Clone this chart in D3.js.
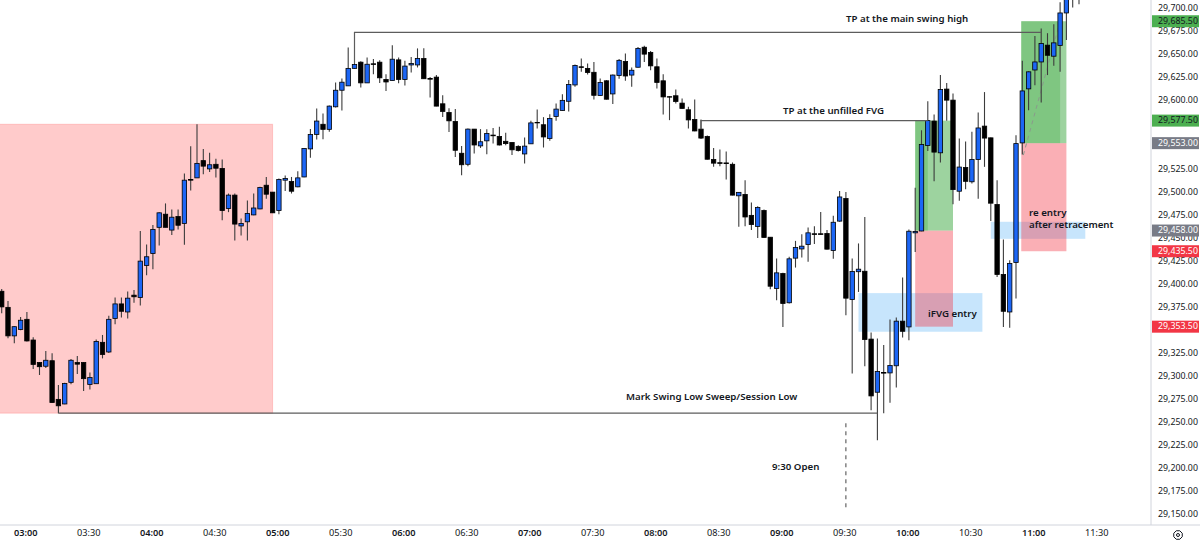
<!DOCTYPE html>
<html>
<head>
<meta charset="utf-8">
<script src="https://cdn.jsdelivr.net/npm/d3@7"></script>
<style>
  html, body { margin: 0; padding: 0; background: #fff; overflow: hidden; }
  svg { display: block; }
  text { font-family: "Noto Sans", "Open Sans", sans-serif; }
</style>
</head>
<body>
<div id="chart"></div>
<script>
// Three-minute index futures candles, first one at 02:48 (minutes since midnight).
const firstCandleMinute = 168;
const candleMinutes = 3;

const opens = [
  29392,29374.5,29343.5,29350.5,29361.5,29339,29314.5,29310.5,29316.5,29274.5,
  29269.5,29293,29314.5,29314.5,29290.75,29291.5,29336.5,29326,29362.5,29378.25,
  29369.5,29387.75,29385.25,29420,29433,29461.5,29475.75,29458.5,29473.25,29465.75,
  29513.5,29515.25,29534,29525,29530,29525.5,29482,29496.5,29463,29467.5,
  29475,29481.5,29507.25,29499.75,29479.75,29512.75,29511.25,29505.5,29516.25,29546.75,
  29562.5,29573.5,29568,29592.5,29610.5,29615.25,29634.25,29641,29618.5,29639.25,
  29641,29622.25,29621,29643.5,29622.25,29638,29638,29645,29623.25,29624.75,
  29595.75,29586.25,29576.5,29542,29530,29568.25,29550,29555.5,29561.75,29560.25,
  29555,29553.75,29549.5,29541.25,29552.25,29575.5,29573,29558,29582,29588.5,
  29598.5,29616.25,29636,29634.25,29630,29604.75,29620.75,29606.5,29626.5,29641.75,
  29627,29635.5,29657.25,29651.5,29636,29620.75,29603.5,29604.5,29596.5,29589.25,
  29578.75,29568.25,29560.25,29535.25,29531.75,29531.5,29530,29495.75,29497.25,29474.5,
  29462.5,29479.75,29450.75,29395,29411.25,29379.5,29428,29438,29442.75,29454.5,
  29454.5,29454.75,29436.25,29468.25,29492.75,29383,29413.25,29413.75,29340,29282.25,
  29303.75,29303.25,29311,29359.5,29353.25,29455.5,29457.5,29550.5,29577,29542.5,
  29611.75,29599.75,29500.75,29526.5,29511,29535.25,29571.5,29558.75,29486.25,29410.25,
  29369.5,29423.25,29553.25,29612,29632.5,29641.25,29659.5,29647.5,29659.25,29694.5,
  29714,29722
];
const highs = [
  29394.5,29381.5,29354,29364,29369.5,29342,29315,29327,29324.5,29290,
  29292.5,29318.5,29321.5,29315,29303.75,29339.5,29344.5,29365.5,29385.25,29385.25,
  29391.75,29393.25,29457.5,29442.75,29464,29478,29487.5,29481,29481,29520,
  29549.5,29573.5,29546.5,29542.5,29536,29535.25,29498.25,29498.25,29471,29490.75,
  29498.25,29505.5,29516.25,29500,29514.5,29517.75,29516.25,29522.5,29547.5,29568.25,
  29590.75,29585.25,29594,29619,29623.25,29657,29640,29642,29646,29644.5,
  29643,29628,29659.5,29646,29642.5,29646.75,29656,29656.25,29625,29627,
  29605,29591,29590,29550,29569,29568.5,29568.25,29568,29569.5,29570.75,
  29564.25,29554,29550.75,29559,29577.25,29589.5,29581.25,29584.5,29596,29606.25,
  29621.5,29638.5,29645,29639.5,29641.25,29623.25,29621.5,29627.5,29644.5,29650.5,
  29635.25,29657.5,29658.75,29653.25,29645,29628,29604,29611.25,29601.5,29592.5,
  29600.5,29578.75,29561.25,29547.75,29546,29544,29532,29499.75,29512.75,29488.5,
  29484.5,29481,29451,29427.5,29412,29429.5,29446.75,29454,29461.25,29462.75,
  29478.25,29458.5,29474,29501,29500,29427.5,29444,29472.75,29347.25,29340.75,
  29333.5,29361.25,29363.5,29407,29459,29504.5,29567,29598.5,29584.25,29627,
  29618.5,29607,29558,29554.75,29565.25,29586.25,29608.5,29559,29512.75,29448.25,
  29425.75,29561.5,29642.5,29631.25,29669.5,29677.5,29672.5,29682.25,29706.25,29719,
  29725,29726
];
const lows = [
  29368,29341,29335.5,29349.5,29337.5,29307.5,29301,29308.5,29270.5,29259.5,
  29269.25,29291,29302,29283.5,29285.25,29291.5,29319,29325,29356.25,29363.5,
  29362.5,29379.5,29376.5,29409.5,29416,29441.75,29461.5,29453.25,29459.25,29442.5,
  29501.5,29515,29519.25,29521.75,29515.75,29469.25,29478,29447.25,29452.5,29447.25,
  29474.75,29481.25,29492.5,29477,29475.75,29501,29498.25,29505,29516,29537,
  29557,29557.25,29565.25,29591.75,29588.5,29615,29634,29613.5,29618.25,29628,
  29618.5,29609.75,29620.75,29618,29615.75,29629.75,29635.25,29622.75,29602.5,29593,
  29581.5,29565,29538,29518,29528,29541.75,29547.75,29541,29552.5,29550.5,
  29550.75,29540,29544,29531,29552,29569,29548.25,29555.5,29577.25,29588.25,
  29587.5,29614.25,29630.5,29627.5,29600.5,29604.5,29600.5,29595.5,29623,29620.75,
  29614.25,29635.25,29641.25,29632.25,29612.5,29584,29578,29596,29590.25,29569,
  29566,29557.5,29535.25,29527.25,29528,29513.5,29496.25,29462,29462.75,29458.5,
  29450,29450.25,29394.25,29382.25,29353.25,29378.75,29417.75,29428.75,29424,29443.25,
  29453.5,29437.5,29427.25,29467.5,29366,29302.5,29391.25,29310.5,29262.75,29230,
  29259.5,29270.75,29287.5,29341.75,29338.75,29434.75,29457.25,29544.5,29511.5,29532,
  29577.25,29486.5,29490.25,29503,29509.25,29492.5,29527.25,29468.5,29407.5,29353.25,
  29352.25,29384.25,29540.75,29588.75,29616,29597.25,29627,29637,29630.5,29665,
  29700.5,29704
];
const closes = [
  29375,29343.5,29353.5,29360.5,29338,29312.5,29310,29317,29271,29267.5,
  29291.75,29317,29312.75,29297,29298.25,29337.5,29323.25,29361.5,29378.25,29370.25,
  29384.5,29386,29424.75,29429.5,29459.25,29477.25,29461.5,29472.5,29463.75,29512.75,
  29512.75,29531,29528,29529.5,29525.75,29479.75,29496.5,29465,29465.75,29476.5,
  29482.5,29504.75,29497.5,29477.25,29513.5,29514.5,29500.75,29515.25,29547.25,29562.5,
  29577,29568,29593.25,29610.5,29619.25,29634.25,29638.5,29618.5,29638.75,29638.5,
  29624,29619.5,29644.25,29622.25,29636.75,29639.5,29645,29623,29622.5,29593.25,
  29587.5,29577.25,29545.25,29529.5,29568.25,29551,29554.5,29563.5,29561,29551,
  29552.5,29545.75,29545,29549.75,29575,29575,29559.75,29579.75,29590,29599.5,
  29616.75,29637.5,29635.25,29629.75,29605,29619,29600.75,29627,29643,29626,
  29632.25,29656,29649.75,29637,29619,29603.25,29603,29598.25,29590.75,29578.25,
  29566.25,29558.5,29535.5,29531.25,29531,29530.75,29496.5,29499.5,29472.75,29464.5,
  29483,29450.5,29397.5,29412,29378.75,29427.25,29439.5,29441,29455.5,29453.75,
  29453.75,29437.75,29467,29494.5,29384.5,29413.5,29416,29339.5,29278.25,29304.75,
  29303,29311.25,29359.5,29348.5,29457.25,29457,29551.5,29577.5,29543.25,29611.25,
  29599.75,29502.5,29527,29511.5,29535.25,29569.5,29558.5,29487.75,29410.25,29370.25,
  29422.25,29552.5,29609.75,29630.5,29641.25,29661.25,29648.5,29662,29694.5,29715,
  29722,29717.5
];

// 29,575, 29,550 and 29,350 sit fully behind their price tags, so they are left out.
const priceTicks = d3.range(29150, 29701, 25).filter(p => ![29575, 29550, 29350].includes(p));
const timeTickMinutes = [180,210,240,270,300,330,360,390,420,450,480,510,540,570,600,630,660,690];

// Price tags pinned to the right-hand scale.
const tagPrices = [29685.5, 29577.5, 29553, 29458, 29435.5, 29353.5];
const tagKinds  = ["profit", "profit", "entry", "entry", "stop", "stop"];

// Session box, levels and trade zones (minutes and prices).
const sessionBox = { from: 150, to: 297, top: 29573.5, bottom: 29259.5 };
const lowLevel   = { from: 195, to: 585, price: 29259.5 };
const highLevel  = { from: 336, to: 663, price: 29673.3, anchor: 29640 };
const fvgLevel   = { from: 501, to: 609, price: 29577.5, anchor: 29568 };
const openMarker = { minute: 570, top: 29248.5, bottom: 29156 };

const zones = [
  { kind: "fvg",    from: 576,   to: 635,   top: 29390,   bottom: 29348 },
  { kind: "fvg",    from: 639,   to: 684,   top: 29467.5, bottom: 29449 },
  { kind: "loss",   from: 603,   to: 621,   top: 29458,   bottom: 29353.5 },
  { kind: "loss",   from: 653.5, to: 675,   top: 29553,   bottom: 29435.5 },
  { kind: "gain",   from: 603,   to: 621,   top: 29577.5, bottom: 29458 },
  { kind: "gainB",  from: 603,   to: 609,   top: 29577.5, bottom: 29458 },
  { kind: "gain",   from: 653.5, to: 675,   top: 29685.5, bottom: 29553 },
  { kind: "gainB",  from: 653.5, to: 672,   top: 29685.5, bottom: 29553 }
];
const zoneFill = {
  fvg:   "rgba(33,150,243,0.25)",
  loss:  "rgba(242,54,69,0.4)",
  gain:  "rgba(76,175,80,0.55)",
  gainB: "rgba(76,175,80,0.37)"
};
const tagFill = { profit: "#4caf50", entry: "#787b86", stop: "#f23645" };
const tagText = { profit: "#131722", entry: "#ffffff", stop: "#ffffff" };

const width = 1200, height = 541;
const plotRight = 1151, plotBottom = 525;
const bodyHalf = 2.2;

const svg = d3.select("#chart").append("svg")
  .attr("width", width).attr("height", height);

const x = d3.scaleLinear().domain([168, 690]).range([1.7, 1097.9]);
const y = d3.scaleLinear().domain([29150, 29700]).range([513.9, 7.9]);

svg.append("defs").append("clipPath").attr("id", "plot")
  .append("rect").attr("width", plotRight).attr("height", plotBottom);

const plot = svg.append("g").attr("clip-path", "url(#plot)");

// Session highlight
plot.append("rect")
  .attr("x", x(sessionBox.from)).attr("y", y(sessionBox.top))
  .attr("width", x(sessionBox.to) - x(sessionBox.from))
  .attr("height", y(sessionBox.bottom) - y(sessionBox.top))
  .attr("fill", "rgba(255,82,82,0.3)")
  .attr("stroke", "rgba(255,82,82,0.25)");

// Trade zones
plot.append("g").selectAll("rect").data(zones).join("rect")
  .attr("x", d => x(d.from)).attr("y", d => y(d.top))
  .attr("width", d => x(d.to) - x(d.from))
  .attr("height", d => y(d.bottom) - y(d.top))
  .attr("fill", d => zoneFill[d.kind]);

// Dashed guide through the second target zone
plot.append("line")
  .attr("x1", x(654.5)).attr("y1", y(29540))
  .attr("x2", x(672)).attr("y2", y(29685.5))
  .attr("stroke", "#8a9a8c").attr("stroke-width", 1).attr("stroke-dasharray", "4 4");

// Candles
const candles = plot.append("g").selectAll("g").data(opens).join("g");
const minuteOf = i => firstCandleMinute + i * candleMinutes;

candles.append("line")
  .attr("x1", (d, i) => x(minuteOf(i))).attr("x2", (d, i) => x(minuteOf(i)))
  .attr("y1", (d, i) => y(highs[i])).attr("y2", (d, i) => y(lows[i]))
  .attr("stroke", "#3c3c3c").attr("stroke-width", 1.1);

candles.append("rect")
  .attr("x", (d, i) => x(minuteOf(i)) - bodyHalf)
  .attr("width", bodyHalf * 2)
  .attr("y", (d, i) => y(Math.max(opens[i], closes[i])))
  .attr("height", (d, i) => Math.abs(y(opens[i]) - y(closes[i])))
  .attr("fill", (d, i) => closes[i] > opens[i] ? "#1c66f5" : "#000")
  .attr("stroke", "#000").attr("stroke-width", 0.8);

// Horizontal levels with their short drop to the reference candle
const levelPath = d3.line().x(d => x(d[0])).y(d => y(d[1]));
plot.append("path")
  .attr("d", levelPath([[lowLevel.from, lowLevel.price], [lowLevel.to, lowLevel.price]]))
  .attr("fill", "none").attr("stroke", "#5c5c5c").attr("stroke-width", 1.2);
plot.append("path")
  .attr("d", levelPath([[highLevel.from, highLevel.anchor], [highLevel.from, highLevel.price], [highLevel.to, highLevel.price]]))
  .attr("fill", "none").attr("stroke", "#5c5c5c").attr("stroke-width", 1.2);
plot.append("path")
  .attr("d", levelPath([[fvgLevel.from, fvgLevel.anchor], [fvgLevel.from, fvgLevel.price], [fvgLevel.to, fvgLevel.price]]))
  .attr("fill", "none").attr("stroke", "#5c5c5c").attr("stroke-width", 1.2);

// 9:30 marker
plot.append("line")
  .attr("x1", x(openMarker.minute)).attr("x2", x(openMarker.minute))
  .attr("y1", y(openMarker.top)).attr("y2", y(openMarker.bottom))
  .attr("stroke", "#444").attr("stroke-width", 1).attr("stroke-dasharray", "4 4");

// Notes written on the chart
const noteStyle = sel => sel.attr("font-size", 9.7).attr("font-weight", 600).attr("fill", "#131722");
plot.append("text").text("TP at the main swing high").attr("x", 846).attr("y", 22).call(noteStyle);
plot.append("text").text("TP at the unfilled FVG").attr("x", 783).attr("y", 114).call(noteStyle);
plot.append("text").text("Mark Swing Low Sweep/Session Low").attr("x", 626).attr("y", 399.5).call(noteStyle);
plot.append("text").text("9:30 Open").attr("x", 772).attr("y", 470).call(noteStyle);
plot.append("text").text("iFVG entry").attr("x", 928).attr("y", 316.5).call(noteStyle);
plot.append("text").text("re entry").attr("x", 1029).attr("y", 216).call(noteStyle);
plot.append("text").text("after retracement").attr("x", 1029).attr("y", 228).call(noteStyle);

// Price scale
const yAxis = d3.axisRight(y).tickValues(priceTicks).tickFormat(d3.format(",.2f")).tickSize(0).tickPadding(0);
const yG = svg.append("g").attr("transform", `translate(1158,-0.7)`).call(yAxis);
yG.select(".domain").remove();
yG.selectAll("text").attr("font-size", 8.8).attr("fill", "#131722")
  .style("font-family", '"Noto Sans", sans-serif').attr("dy", "0.36em");

// Time scale
const xAxis = d3.axisBottom(x).tickValues(timeTickMinutes)
  .tickFormat(m => d3.format("02d")(Math.floor(m / 60)) + ":" + d3.format("02d")(m % 60))
  .tickSize(0).tickPadding(0);
const xG = svg.append("g").attr("transform", `translate(-1.6,${plotBottom + 4})`).call(xAxis);
xG.select(".domain").remove();
xG.selectAll("text").attr("font-size", 9.2).attr("fill", "#131722")
  .attr("font-weight", m => m % 60 === 0 ? 600 : 400);

// Pane borders
svg.append("line").attr("x1", 0).attr("x2", width).attr("y1", plotBottom).attr("y2", plotBottom)
  .attr("stroke", "#d1d4dc");
svg.append("line").attr("x1", plotRight).attr("x2", plotRight).attr("y1", 0).attr("y2", plotBottom)
  .attr("stroke", "#d1d4dc");

// Price tags
const tags = svg.append("g").selectAll("g").data(tagPrices).join("g")
  .attr("transform", d => `translate(${plotRight + 1},${y(d)})`);
tags.append("rect").attr("x", 0).attr("y", -6).attr("width", 47).attr("height", 12)
  .attr("fill", (d, i) => tagFill[tagKinds[i]]);
tags.append("text").attr("x", 6).attr("dy", "0.3em")
  .attr("font-size", 8.8)
  .attr("fill", (d, i) => tagText[tagKinds[i]])
  .text(d => d3.format(",.2f")(d));

// Scale settings button
const gear = svg.append("g").attr("transform", "translate(1178,535)")
  .attr("fill", "none").attr("stroke", "#131722").attr("stroke-width", 1);
const gearCorners = d3.range(8).map(k => {
  const a = Math.PI / 8 + k * Math.PI / 4;
  return [4.6 * Math.cos(a), 4.6 * Math.sin(a)];
});
gear.append("path").attr("d", d3.line().curve(d3.curveLinearClosed)(gearCorners));
gear.append("circle").attr("r", 1.5);
</script>
</body>
</html>
